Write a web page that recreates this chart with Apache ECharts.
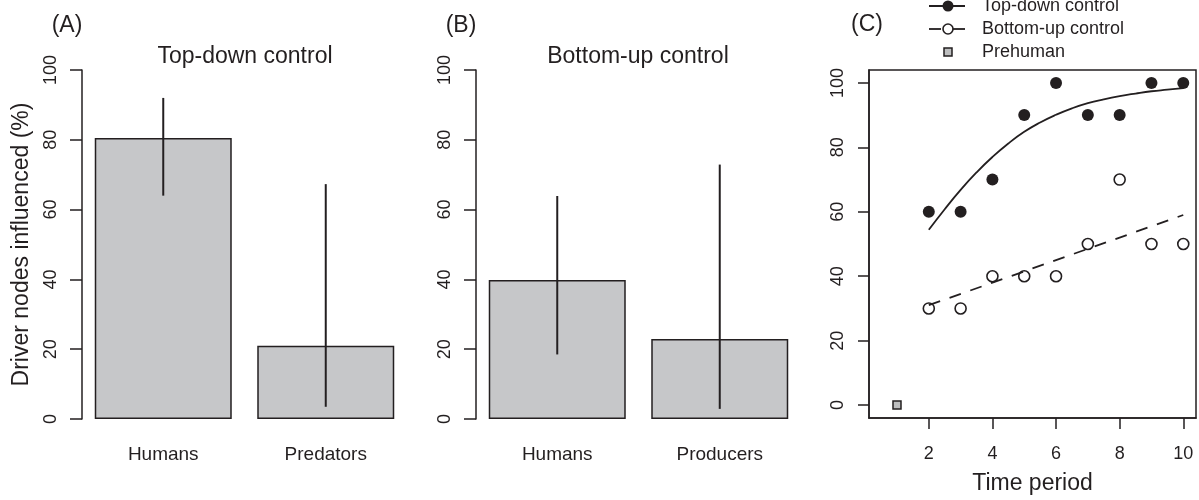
<!DOCTYPE html>
<html>
<head>
<meta charset="utf-8">
<title>Driver nodes</title>
<script src="https://cdn.jsdelivr.net/npm/echarts@6/dist/echarts.min.js"></script>
<style>
  html, body { margin: 0; padding: 0; background: #fff; }
  #chart { width: 1199px; height: 500px; }
</style>
</head>
<body>
<div id="chart"></div>
<script>
// panel A: top-down control
const categoriesA = ['Humans', 'Predators'];
const meanA = [80.5, 21];
const lowA = [64, 3.5];
const highA = [92, 67.3];

// panel B: bottom-up control
const categoriesB = ['Humans', 'Producers'];
const meanB = [39.8, 22.9];
const lowB = [18.5, 2.9];
const highB = [63.9, 72.9];

// panel C: time series
const periods = [2, 3, 4, 5, 6, 7, 8, 9, 10];
const topDown = [60, 60, 70, 90, 100, 90, 90, 100, 100];
const bottomUp = [30, 30, 40, 40, 40, 50, 70, 50, 50];
const prehumanPeriod = [1];
const prehumanValue = [0];

// fitted curves
const topDownFitX = [2, 2.5, 3, 3.5, 4, 4.5, 5, 5.5, 6, 6.5, 7, 7.5, 8, 8.5, 9, 9.5, 10];
const topDownFitY = [54.4, 60.8, 66.8, 72.2, 77.0, 81.2, 84.8, 87.7, 90.1, 92.1, 93.7, 94.9, 95.9, 96.7, 97.4, 97.9, 98.4];
const bottomUpFitX = [2, 10];
const bottomUpFitY = [31, 59];

const valueTicks = [0, 20, 40, 60, 80, 100];
const timeTicks = [2, 4, 6, 8, 10];

const ink = '#231f20';
const font = '"Liberation Sans", Arial, sans-serif';

function pairs(xs, ys) {
  return xs.map((x, i) => [x, ys[i]]);
}

function errorData(low, high) {
  return low.map((l, i) => [i, l, high[i]]);
}

function renderError(params, api) {
  const a = api.coord([api.value(0), api.value(1)]);
  const b = api.coord([api.value(0), api.value(2)]);
  return {
    type: 'line',
    shape: { x1: a[0], y1: a[1], x2: b[0], y2: b[1] },
    style: { stroke: ink, lineWidth: 2 }
  };
}

function barYAxis(idx, name) {
  return {
    gridIndex: idx,
    type: 'value',
    min: 0,
    max: 100,
    interval: 20,
    name: name,
    nameLocation: 'middle',
    nameGap: 49,
    nameTextStyle: { color: ink, fontSize: 23, fontFamily: font },
    axisLine: { show: true, lineStyle: { color: ink, width: 1.5 } },
    axisTick: { show: true, length: 12, lineStyle: { color: ink, width: 1.5 } },
    axisLabel: { rotate: 90, margin: 22, color: ink, fontSize: 18, fontFamily: font },
    splitLine: { show: false }
  };
}

function barXAxis(idx, cats) {
  return {
    gridIndex: idx,
    type: 'category',
    data: cats,
    axisLine: { show: false },
    axisTick: { show: false },
    axisLabel: { margin: 26, color: ink, fontSize: 19, fontFamily: font },
    splitLine: { show: false }
  };
}

function label(text, x, y, size) {
  return {
    type: 'text', x: x, y: y,
    style: { text: text, fill: ink, font: size + 'px ' + font, align: 'center', verticalAlign: 'middle' }
  };
}

let myChart = echarts.init(document.getElementById('chart'));
myChart.setOption({
  animation: false,
  backgroundColor: '#fff',
  grid: [
    { left: 82, top: 70, width: 325, height: 349 },
    { left: 476, top: 70, width: 325, height: 349 },
    { left: 869, top: 70, width: 327, height: 349, show: true, borderColor: ink, borderWidth: 1.5, backgroundColor: 'transparent' }
  ],
  xAxis: [
    barXAxis(0, categoriesA),
    barXAxis(1, categoriesB),
    {
      gridIndex: 2,
      type: 'value',
      min: 0.12,
      max: 10.4,
      name: 'Time period',
      nameLocation: 'middle',
      nameGap: 54,
      nameTextStyle: { color: ink, fontSize: 23, fontFamily: font },
      axisLine: { show: true, onZero: false, lineStyle: { color: ink, width: 1.5 } },
      axisTick: { show: true, length: 11, customValues: timeTicks, lineStyle: { color: ink, width: 1.5 } },
      axisLabel: { customValues: timeTicks, margin: 27, color: ink, fontSize: 18, fontFamily: font },
      splitLine: { show: false }
    }
  ],
  yAxis: [
    barYAxis(0, 'Driver nodes influenced (%)'),
    barYAxis(1, ''),
    {
      gridIndex: 2,
      type: 'value',
      min: -4,
      max: 104,
      axisLine: { show: true, onZero: false, lineStyle: { color: ink, width: 1.5 } },
      axisTick: { show: true, length: 11, customValues: valueTicks, lineStyle: { color: ink, width: 1.5 } },
      axisLabel: { customValues: valueTicks, rotate: 90, margin: 22, color: ink, fontSize: 18, fontFamily: font },
      splitLine: { show: false }
    }
  ],
  series: [
    {
      type: 'bar', xAxisIndex: 0, yAxisIndex: 0, data: meanA, barWidth: 137,
      itemStyle: { color: '#c6c7c9', borderColor: ink, borderWidth: 1.5 }
    },
    {
      type: 'custom', xAxisIndex: 0, yAxisIndex: 0, data: errorData(lowA, highA),
      renderItem: renderError, z: 5
    },
    {
      type: 'bar', xAxisIndex: 1, yAxisIndex: 1, data: meanB, barWidth: 137,
      itemStyle: { color: '#c6c7c9', borderColor: ink, borderWidth: 1.5 }
    },
    {
      type: 'custom', xAxisIndex: 1, yAxisIndex: 1, data: errorData(lowB, highB),
      renderItem: renderError, z: 5
    },
    {
      name: 'Top-down fit', type: 'line', xAxisIndex: 2, yAxisIndex: 2,
      data: pairs(topDownFitX, topDownFitY), smooth: true, showSymbol: false,
      lineStyle: { color: ink, width: 1.8 }
    },
    {
      name: 'Bottom-up fit', type: 'line', xAxisIndex: 2, yAxisIndex: 2,
      data: pairs(bottomUpFitX, bottomUpFitY), showSymbol: false,
      lineStyle: { color: ink, width: 1.8, type: [12, 10] }
    },
    {
      name: 'Top-down control', type: 'scatter', xAxisIndex: 2, yAxisIndex: 2,
      data: pairs(periods, topDown), symbol: 'circle', symbolSize: 12,
      itemStyle: { color: ink, opacity: 1 }
    },
    {
      name: 'Bottom-up control', type: 'scatter', xAxisIndex: 2, yAxisIndex: 2,
      data: pairs(periods, bottomUp), symbol: 'circle', symbolSize: 11,
      itemStyle: { color: 'rgba(255,255,255,0)', borderColor: ink, borderWidth: 1.6, opacity: 1 }
    },
    {
      name: 'Prehuman', type: 'scatter', xAxisIndex: 2, yAxisIndex: 2,
      data: pairs(prehumanPeriod, prehumanValue), symbol: 'rect', symbolSize: 8,
      itemStyle: { color: '#bdbebf', borderColor: ink, borderWidth: 1.5, opacity: 1 }
    }
  ],
  graphic: [
    label('(A)', 67, 26, 23),
    label('Top-down control', 245, 57, 23),
    label('(B)', 461, 26, 23),
    label('Bottom-up control', 638, 57, 23),
    label('(C)', 867, 25, 23),
    // legend of panel C
    { type: 'line', shape: { x1: 929, y1: 6, x2: 965, y2: 6 }, style: { stroke: ink, lineWidth: 1.8 } },
    { type: 'circle', shape: { cx: 948, cy: 6, r: 5.5 }, style: { fill: ink } },
    { type: 'text', x: 982, y: 6, style: { text: 'Top-down control', fill: ink, font: '18px ' + font, verticalAlign: 'middle' } },
    { type: 'line', shape: { x1: 929, y1: 29, x2: 965, y2: 29 }, style: { stroke: ink, lineWidth: 1.8, lineDash: [12, 12] } },
    { type: 'circle', shape: { cx: 948, cy: 29, r: 5 }, style: { fill: '#fff', stroke: ink, lineWidth: 1.6 } },
    { type: 'text', x: 982, y: 29, style: { text: 'Bottom-up control', fill: ink, font: '18px ' + font, verticalAlign: 'middle' } },
    { type: 'rect', shape: { x: 944, y: 48, width: 8, height: 8 }, style: { fill: '#bdbebf', stroke: ink, lineWidth: 1.5 } },
    { type: 'text', x: 982, y: 52, style: { text: 'Prehuman', fill: ink, font: '18px ' + font, verticalAlign: 'middle' } }
  ]
});
</script>
</body>
</html>
